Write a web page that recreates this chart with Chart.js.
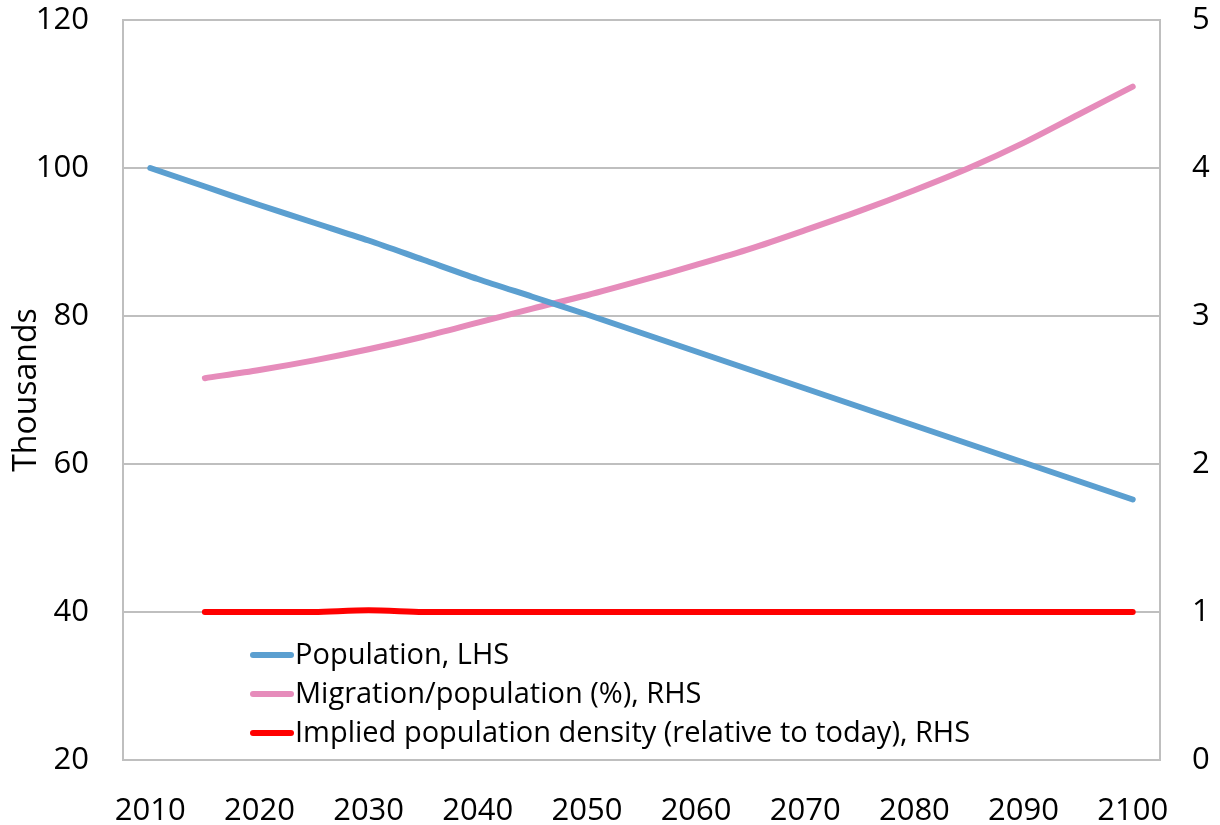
<!DOCTYPE html>
<html>
<head>
<meta charset="utf-8">
<script src="https://cdn.jsdelivr.net/npm/chart.js@4"></script>
<style>
  html, body { margin: 0; padding: 0; background: #fff; }
  #wrap { width: 1220px; height: 825px; }
</style>
</head>
<body>
<div id="wrap"><canvas id="chart" width="1220" height="825"></canvas></div>
<script>
const years = ['2010','2015','2020','2025','2030','2035','2040','2045','2050','2055',
               '2060','2065','2070','2075','2080','2085','2090','2095','2100'];
const population = [100, 97.5, 95, 92.6, 90.2, 87.6, 85.0, 82.6, 80.2, 77.7,
                    75.2, 72.7, 70.2, 67.7, 65.2, 62.7, 60.2, 57.7, 55.2];
const migration = [null, 2.58, 2.635, 2.70, 2.775, 2.86, 2.955, 3.05, 3.14, 3.24,
                   3.345, 3.455, 3.58, 3.71, 3.85, 4.00, 4.17, 4.36, 4.55];
const density = [null, 1.0, 1.0, 1.0, 1.012, 1.0, 1.0, 1.0, 1.0, 1.0,
                 1.0, 1.0, 1.0, 1.0, 1.0, 1.0, 1.0, 1.0, 1.0];
const labels = ['Population, LHS', 'Migration/population (%), RHS',
                'Implied population density (relative to today), RHS'];
const colors = ['#5b9fd0', '#e68cbb', '#ff0000'];

const gridColor = '#bfbfbf';
const font = 'Open Sans';

// legend drawn inside the plot, lower left
const insideLegend = {
  id: 'insideLegend',
  afterDraw(chart) {
    const ctx = chart.ctx;
    const x0 = 253, rows = [655, 694, 733];
    ctx.save();
    ctx.font = '29px "' + font + '"';
    ctx.textBaseline = 'middle';
    ctx.fillStyle = '#000';
    ctx.lineCap = 'round';
    ctx.lineWidth = 6;
    labels.forEach((t, i) => {
      ctx.strokeStyle = colors[i];
      ctx.beginPath();
      ctx.moveTo(x0, rows[i]);
      ctx.lineTo(x0 + 38, rows[i]);
      ctx.stroke();
      ctx.fillText(t, x0 + 42, rows[i] + 1);
    });
    ctx.restore();
  }
};

// keep the plot box where the reference has it
function fixY(width) {
  return function(s) { s.width = width; s.paddingTop = 0; s.paddingBottom = 0; };
}

new Chart(document.getElementById('chart'), {
  type: 'line',
  data: {
    labels: years,
    datasets: [
      { label: labels[0], data: population, yAxisID: 'y', borderColor: colors[0] },
      { label: labels[1], data: migration, yAxisID: 'y1', borderColor: colors[1] },
      { label: labels[2], data: density, yAxisID: 'y1', borderColor: colors[2] }
    ]
  },
  options: {
    responsive: false,
    animation: false,
    layout: { padding: { top: 20, left: 0, right: 0, bottom: 0 } },
    elements: {
      line: { borderWidth: 6, tension: 0.3, borderCapStyle: 'round', fill: false },
      point: { radius: 0, hoverRadius: 0 }
    },
    plugins: { legend: { display: false }, tooltip: { enabled: false } },
    scales: {
      x: {
        offset: true,
        grid: { display: false },
        border: { display: true, color: gridColor, width: 2 },
        ticks: {
          autoSkip: false,
          maxRotation: 0,
          padding: 28,
          color: '#000',
          font: { family: font, size: 31, lineHeight: 1 },
          callback: function(v, i) { return i % 2 === 0 ? this.getLabelForValue(v) : ''; }
        },
        afterFit(s) { s.height = 65; }
      },
      y: {
        position: 'left',
        min: 20, max: 120,
        ticks: { stepSize: 20, padding: 34, color: '#000', font: { family: font, size: 31, lineHeight: 1 } },
        grid: { color: gridColor, lineWidth: 2, drawTicks: false },
        border: { display: true, color: gridColor, width: 2 },
        title: { display: true, text: 'Thousands', color: '#000', font: { family: font, size: 32 }, padding: { top: 8, bottom: 0 } },
        afterFit: fixY(123)
      },
      y1: {
        position: 'right',
        min: 0, max: 5,
        ticks: { stepSize: 1, padding: 32, color: '#000', font: { family: font, size: 31, lineHeight: 1 } },
        grid: { drawOnChartArea: false, drawTicks: false },
        border: { display: true, color: gridColor, width: 2 },
        afterFit: fixY(60)
      }
    }
  },
  plugins: [insideLegend]
});
</script>
</body>
</html>
